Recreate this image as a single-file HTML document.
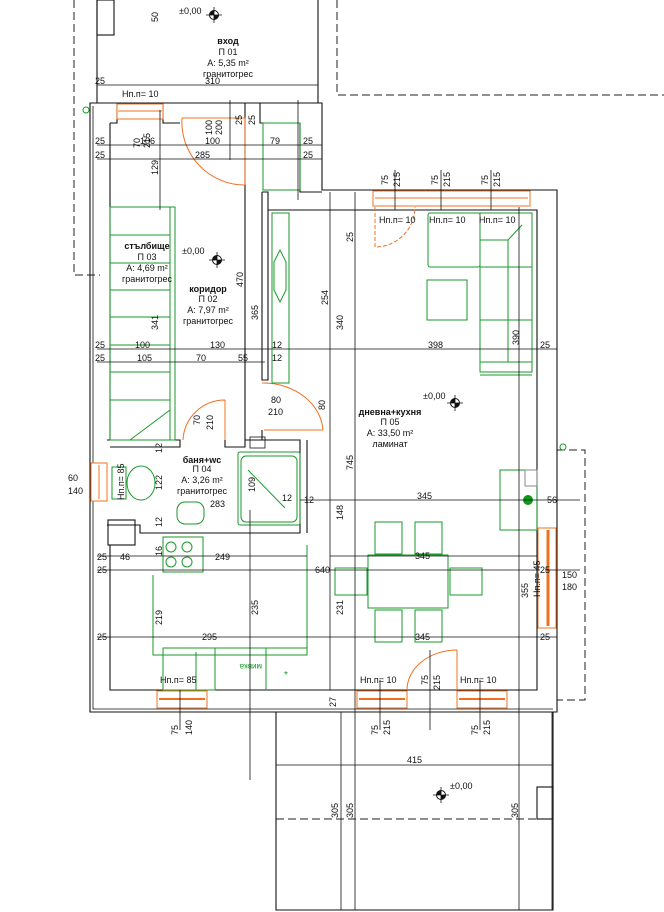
<!DOCTYPE html>
<html><head><meta charset="utf-8"><style>
html,body{margin:0;padding:0;background:#fff;}
svg{display:block;font-family:"Liberation Sans","DejaVu Sans",sans-serif;}
.k{stroke:#111;fill:none;stroke-width:1.1}
.kt{stroke:#111;fill:none;stroke-width:0.8}
.g{stroke:#1a9a2a;fill:none;stroke-width:1}
.o{stroke:#f07020;fill:none;stroke-width:1}
.ob{stroke:#f07020;fill:#fff;stroke-width:1}
.d{stroke:#222;fill:none;stroke-width:1;stroke-dasharray:8 4}
text{font-size:9px;fill:#111}
.b{font-weight:bold}
</style></head><body>
<svg width="664" height="912" viewBox="0 0 664 912">
<!-- dashed outlines -->
<path class="d" d="M74,0 V275 H100"/>
<path class="d" d="M337,0 V95 H664"/>
<path class="d" d="M557,450 H585 V700 H557"/>
<path class="d" d="M276,819 H553"/>
<!-- entry porch -->
<path class="k" d="M97,0 V103 M318,0 V103"/>
<rect class="k" x="97" y="0" width="17" height="35"/>
<!-- outer walls -->
<path class="k" d="M90,103 V712 H557 V190 H322 V103 Z"/>
<path class="kt" d="M93,106 V709 H553"/>
<path class="k" d="M110,123 V440 M110,545 V690 H537 V210 H340"/>
<path class="k" d="M110,123 H117 V103 M163,103 V123 H180 M245,123 V103 M260,103 V123 H300 V192 M322,192 H322"/>
<path class="k" d="M300,123 V192 H322"/>
<rect class="g" x="263" y="123" width="37" height="67"/>
<!-- corridor/living wall -->
<path class="k" d="M245,123 V440 M262,192 V380 H268 V192 H262 M268,210 H340"/>
<path class="k" d="M262,430 V440 H300"/>
<!-- bathroom -->
<path class="k" d="M107,440 H180 V447 H110 M225,440 V447 H245 V440 H250 M250,440 H300 V533 H140 V525 H107"/>
<path class="k" d="M307,440 V533"/>
<rect class="kt" x="250" y="437" width="15" height="11"/>
<rect class="k" x="108" y="520" width="27" height="25"/>
<!-- windows -->
<rect class="ob" x="117" y="104" width="46" height="15"/>
<line class="o" x1="118" y1="111" x2="162" y2="111"/>
<rect class="ob" x="373" y="191" width="157" height="15"/>
<line class="o" x1="375" y1="198" x2="528" y2="198"/>
<rect class="ob" x="91" y="463" width="16" height="38"/>
<line class="o" x1="99" y1="465" x2="99" y2="499"/>
<rect class="ob" x="538" y="528" width="18" height="100"/>
<line class="o" x1="548" y1="530" x2="548" y2="626" style="stroke-width:3"/>
<rect class="ob" x="157" y="691" width="50" height="17"/>
<line class="o" x1="159" y1="699" x2="205" y2="699" style="stroke-width:2"/>
<rect class="ob" x="357" y="691" width="50" height="17"/>
<line class="o" x1="359" y1="699" x2="405" y2="699" style="stroke-width:2"/>
<rect class="ob" x="457" y="691" width="50" height="17"/>
<line class="o" x1="459" y1="699" x2="505" y2="699" style="stroke-width:2"/>
<!-- doors -->
<path class="o" d="M182,118 H245 V185 M182,118 A63,63 0 0 0 245,185"/>
<path class="o" d="M375,207 V247 A40,40 0 0 0 415,207" stroke-dasharray="4 2"/>
<path class="o" d="M225,400 V440 M225,400 A42,42 0 0 0 183,440"/>
<path class="o" d="M262,383 H268 M264,430 H323 M264,383 A60,50 0 0 1 323,430"/>
<path class="o" d="M457,650 V690 M457,650 A50,40 0 0 0 407,690"/>
<!-- stairs -->
<rect class="g" x="110" y="207" width="65" height="233"/>
<path class="g" d="M170,207 V440 M110,235 H170 M110,263 H170 M110,290 H170 M110,317 H170 M110,345 H170 M110,372 H170 M110,400 H170 M130,440 L170,410"/>
<!-- corridor cabinet -->
<rect class="g" x="272" y="213" width="17" height="170"/>
<path class="g" d="M280,250 L274,262 L274,290 L280,302 L286,290 L286,262 Z"/>
<!-- living furniture -->
<rect class="g" x="428" y="213" width="52" height="54" rx="2"/>
<rect class="g" x="427" y="280" width="40" height="40"/>
<path class="g" d="M480,213 H532 V372 H480 Z M480,240 H508 L522,225 M508,240 V362 M480,267 H532 M480,320 H532 M480,362 H532 M480,375 H532"/>
<!-- bathroom fixtures -->
<rect class="g" x="238" y="452" width="62" height="73" rx="2"/>
<rect class="g" x="241" y="456" width="56" height="66" rx="5"/>
<line class="g" x1="248" y1="470" x2="285" y2="508"/>
<ellipse class="g" cx="141" cy="483" rx="14" ry="17"/>
<rect class="g" x="112" y="467" width="14" height="32"/>
<rect class="g" x="177" y="502" width="27" height="22" rx="8"/>
<!-- kitchen -->
<path class="g" d="M153,575 V655 H307 V545"/>
<rect class="g" x="163" y="537" width="40" height="35"/>
<circle class="g" cx="171" cy="547" r="5"/><circle class="g" cx="187" cy="547" r="5"/>
<circle class="g" cx="171" cy="562" r="5"/><circle class="g" cx="187" cy="562" r="5"/>
<rect class="g" x="163" y="648" width="52" height="42"/>
<line class="g" x1="196" y1="652" x2="196" y2="690"/>
<path class="g" d="M266,648 V690 M215,648 H307"/>
<text x="228" y="670" style="fill:#1a9a2a;font-size:8px" transform="rotate(180 245 667)">мивка</text>
<text x="284" y="678" style="fill:#1a9a2a;font-size:10px">*</text>
<rect class="g" x="500" y="470" width="37" height="60"/>
<rect style="stroke:#888;fill:none" x="525" y="470" width="12" height="16"/>
<circle cx="528" cy="500" r="5" fill="#0a9a1a"/>
<!-- dining -->
<rect class="g" x="368" y="555" width="80" height="53"/>
<rect class="g" x="375" y="522" width="27" height="32"/><rect class="g" x="415" y="522" width="27" height="32"/>
<rect class="g" x="375" y="610" width="27" height="32"/><rect class="g" x="415" y="610" width="27" height="32"/>
<rect class="g" x="335" y="568" width="32" height="27"/><rect class="g" x="450" y="568" width="32" height="27"/>
<!-- terrace -->
<path class="k" d="M276,712 V910 H553 V712"/>
<rect class="k" x="537" y="787" width="16" height="32"/>
<!-- dimension lines -->
<g class="kt">
<path d="M97,85 H318 M97,145 H322 M97,159 H322 M97,349 H557 M97,362 H265 M300,500 H580 M97,556 H307 M97,570 H540 M545,570 H580 M97,637 H557 M276,765 H553 M330,500 H537 M330,556 H537"/>
<path d="M330,192 V690 M341,712 V910 M355,192 V910 M519,207 V910 M552,712 V910 M245,360 V440 M160,110 V210 M230,100 V160 M250,510 V780 M298,100 V200 M441,170 V210 M491,170 V210 M395,170 V210 M380,680 V730 M430,650 V730 M480,680 V730 M180,690 V730"/>
</g>
<!-- dim text -->
<text x="95" y="84">25</text><text x="205" y="84">310</text>
<text x="95" y="144">25</text><text x="140" y="144">106</text><text x="205" y="144">100</text><text x="270" y="144">79</text><text x="303" y="144">25</text>
<text x="95" y="158">25</text><text x="195" y="158">285</text><text x="303" y="158">25</text>
<text x="95" y="348">25</text><text x="135" y="348">100</text><text x="210" y="348">130</text><text x="272" y="348">12</text><text x="428" y="348">398</text><text x="540" y="348">25</text>
<text x="95" y="361">25</text><text x="137" y="361">105</text><text x="196" y="361">70</text><text x="238" y="361">55</text><text x="272" y="361">12</text>
<text x="304" y="503">12</text><text x="417" y="499">345</text><text x="547" y="503">56</text>
<text x="97" y="560">25</text><text x="120" y="560">46</text><text x="215" y="560">249</text><text x="415" y="559">345</text>
<text x="97" y="573">25</text><text x="315" y="573">640</text><text x="540" y="573">25</text><text x="562" y="578">150</text><text x="562" y="590">180</text>
<text x="97" y="640">25</text><text x="202" y="640">295</text><text x="415" y="640">345</text><text x="540" y="640">25</text>
<text x="407" y="763">415</text><text x="282" y="501">12</text><text x="210" y="507">283</text>
<text x="122" y="97">Нп.п= 10</text>
<text x="379" y="223">Нп.п= 10</text><text x="429" y="223">Нп.п= 10</text><text x="479" y="223">Нп.п= 10</text>
<text x="360" y="683">Нп.п= 10</text><text x="460" y="683">Нп.п= 10</text><text x="160" y="683">Нп.п= 85</text>
<text x="271" y="403" style="font-size:9px">80</text><text x="268" y="415">210</text>
<g style="font-size:9px">
<text transform="translate(158,22) rotate(-90)">50</text>
<text transform="translate(140,148) rotate(-90)">70</text><text transform="translate(150,148) rotate(-90)">215</text>
<text transform="translate(212,135) rotate(-90)">100</text><text transform="translate(222,135) rotate(-90)">200</text>
<text transform="translate(242,125) rotate(-90)">25</text><text transform="translate(255,125) rotate(-90)">25</text>
<text transform="translate(158,175) rotate(-90)">129</text><text transform="translate(158,330) rotate(-90)">341</text>
<text transform="translate(243,287) rotate(-90)">470</text><text transform="translate(258,320) rotate(-90)">365</text>
<text transform="translate(328,305) rotate(-90)">254</text><text transform="translate(343,330) rotate(-90)">340</text>
<text transform="translate(353,242) rotate(-90)">25</text><text transform="translate(519,345) rotate(-90)">390</text>
<text transform="translate(325,410) rotate(-90)">80</text>
<text transform="translate(200,425) rotate(-90)">70</text><text transform="translate(213,430) rotate(-90)">210</text>
<text transform="translate(353,470) rotate(-90)">745</text><text transform="translate(343,520) rotate(-90)">148</text>
<text transform="translate(343,615) rotate(-90)">231</text><text transform="translate(258,615) rotate(-90)">235</text>
<text transform="translate(162,625) rotate(-90)">219</text><text transform="translate(162,527) rotate(-90)">12</text>
<text transform="translate(162,490) rotate(-90)">122</text><text transform="translate(162,453) rotate(-90)">12</text>
<text transform="translate(162,556) rotate(-90)">16</text><text transform="translate(255,492) rotate(-90)">109</text>
<text transform="translate(528,598) rotate(-90)">355</text><text transform="translate(540,597) rotate(-90)">Нп.п= 45</text>
<text transform="translate(124,500) rotate(-90)">Нп.п= 85</text>
<text transform="translate(178,735) rotate(-90)">75</text><text transform="translate(192,735) rotate(-90)">140</text>
<text transform="translate(378,735) rotate(-90)">75</text><text transform="translate(390,735) rotate(-90)">215</text>
<text transform="translate(478,735) rotate(-90)">75</text><text transform="translate(490,735) rotate(-90)">215</text>
<text transform="translate(428,685) rotate(-90)">75</text><text transform="translate(440,690) rotate(-90)">215</text>
<text transform="translate(388,185) rotate(-90)">75</text><text transform="translate(400,187) rotate(-90)">215</text>
<text transform="translate(438,185) rotate(-90)">75</text><text transform="translate(450,187) rotate(-90)">215</text>
<text transform="translate(488,185) rotate(-90)">75</text><text transform="translate(500,187) rotate(-90)">215</text>
<text transform="translate(336,707) rotate(-90)">27</text>
<text transform="translate(338,818) rotate(-90)">305</text><text transform="translate(353,818) rotate(-90)">305</text><text transform="translate(518,818) rotate(-90)">305</text>
</g>
<text x="68" y="481">60</text><text x="68" y="494">140</text>
<!-- room labels -->
<g text-anchor="middle">
<text x="228" y="44" class="b">вход</text><text x="228" y="55">П 01</text><text x="228" y="66">A: 5,35 m²</text><text x="228" y="77">гранитогрес</text>
<text x="147" y="249" class="b">стълбище</text><text x="147" y="260">П 03</text><text x="147" y="271">A: 4,69 m²</text><text x="147" y="282">гранитогрес</text>
<text x="208" y="292" class="b">коридор</text><text x="208" y="302">П 02</text><text x="208" y="313">A: 7,97 m²</text><text x="208" y="324">гранитогрес</text>
<text x="202" y="463" class="b">баня+wc</text><text x="202" y="472">П 04</text><text x="202" y="483">A: 3,26 m²</text><text x="202" y="494">гранитогрес</text>
<text x="390" y="415" class="b">дневна+кухня</text><text x="390" y="425">П 05</text><text x="390" y="436">A: 33,50 m²</text><text x="390" y="447">ламинат</text>
</g>
<!-- level markers -->
<g style="font-size:11px">
<text x="179" y="14">±0,00</text><text x="182" y="254">±0,00</text><text x="423" y="399">±0,00</text><text x="450" y="789">±0,00</text>
</g>
<g fill="#111">
<circle cx="214" cy="15" r="4.5" fill="none" stroke="#111"/><path d="M214,15 h4.5 a4.5,4.5 0 0 1 -4.5,4.5z M214,15 h-4.5 a4.5,4.5 0 0 1 4.5,-4.5z"/><path class="kt" d="M206,15 h16 M214,7 v16"/>
<circle cx="217" cy="260" r="4.5" fill="none" stroke="#111"/><path d="M217,260 h4.5 a4.5,4.5 0 0 1 -4.5,4.5z M217,260 h-4.5 a4.5,4.5 0 0 1 4.5,-4.5z"/><path class="kt" d="M209,260 h16 M217,252 v16"/>
<circle cx="455" cy="403" r="4.5" fill="none" stroke="#111"/><path d="M455,403 h4.5 a4.5,4.5 0 0 1 -4.5,4.5z M455,403 h-4.5 a4.5,4.5 0 0 1 4.5,-4.5z"/><path class="kt" d="M447,403 h16 M455,395 v16"/>
<circle cx="441" cy="795" r="4.5" fill="none" stroke="#111"/><path d="M441,795 h4.5 a4.5,4.5 0 0 1 -4.5,4.5z M441,795 h-4.5 a4.5,4.5 0 0 1 4.5,-4.5z"/><path class="kt" d="M433,795 h16 M441,787 v16"/>
</g>
<circle cx="86" cy="110" r="3" fill="none" stroke="#1a9a2a"/>
<circle cx="563" cy="447" r="3" fill="none" stroke="#1a9a2a"/>
</svg>
</body></html>
